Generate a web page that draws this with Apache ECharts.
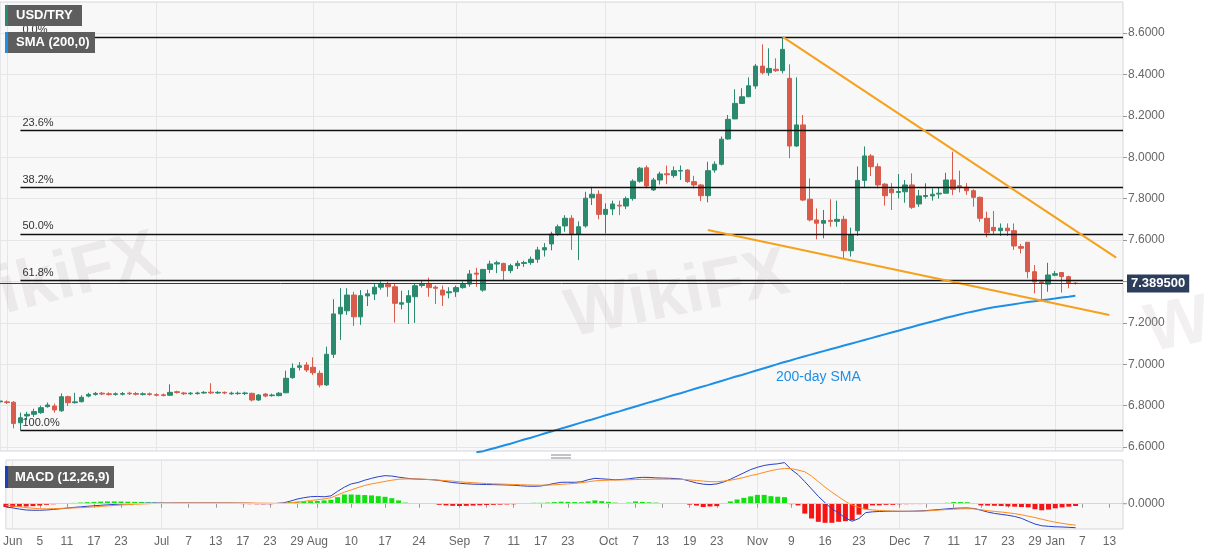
<!DOCTYPE html>
<html><head><meta charset="utf-8">
<script src="https://cdn.jsdelivr.net/npm/echarts@6/dist/echarts.min.js"></script>
<style>html,body{margin:0;padding:0;background:#fff}#c{width:1207px;height:555px}</style>
</head><body><div id="c"></div>
<script>
const dates = ['2020-05-29',
'2020-06-01','2020-06-02','2020-06-03','2020-06-04','2020-06-05','2020-06-08','2020-06-09','2020-06-10','2020-06-11','2020-06-12','2020-06-15','2020-06-16','2020-06-17','2020-06-18','2020-06-19','2020-06-22','2020-06-23','2020-06-24','2020-06-25','2020-06-26','2020-06-29','2020-06-30',
'2020-07-01','2020-07-02','2020-07-03','2020-07-06','2020-07-07','2020-07-08','2020-07-09','2020-07-10','2020-07-13','2020-07-14','2020-07-15','2020-07-16','2020-07-17','2020-07-20','2020-07-21','2020-07-22','2020-07-23','2020-07-24','2020-07-27','2020-07-28','2020-07-29','2020-07-30','2020-07-31',
'2020-08-03','2020-08-04','2020-08-05','2020-08-06','2020-08-07','2020-08-10','2020-08-11','2020-08-12','2020-08-13','2020-08-14','2020-08-17','2020-08-18','2020-08-19','2020-08-20','2020-08-21','2020-08-24','2020-08-25','2020-08-26','2020-08-27','2020-08-28','2020-08-31',
'2020-09-01','2020-09-02','2020-09-03','2020-09-04','2020-09-07','2020-09-08','2020-09-09','2020-09-10','2020-09-11','2020-09-14','2020-09-15','2020-09-16','2020-09-17','2020-09-18','2020-09-21','2020-09-22','2020-09-23','2020-09-24','2020-09-25','2020-09-28','2020-09-29','2020-09-30',
'2020-10-01','2020-10-02','2020-10-05','2020-10-06','2020-10-07','2020-10-08','2020-10-09','2020-10-12','2020-10-13','2020-10-14','2020-10-15','2020-10-16','2020-10-19','2020-10-20','2020-10-21','2020-10-22','2020-10-23','2020-10-26','2020-10-27','2020-10-28','2020-10-29','2020-10-30',
'2020-11-02','2020-11-03','2020-11-04','2020-11-05','2020-11-06','2020-11-09','2020-11-10','2020-11-11','2020-11-12','2020-11-13','2020-11-16','2020-11-17','2020-11-18','2020-11-19','2020-11-20','2020-11-23','2020-11-24','2020-11-25','2020-11-26','2020-11-27','2020-11-30',
'2020-12-01','2020-12-02','2020-12-03','2020-12-04','2020-12-07','2020-12-08','2020-12-09','2020-12-10','2020-12-11','2020-12-14','2020-12-15','2020-12-16','2020-12-17','2020-12-18','2020-12-21','2020-12-22','2020-12-23','2020-12-24','2020-12-25','2020-12-28','2020-12-29','2020-12-30','2020-12-31',
'2021-01-01','2021-01-04','2021-01-05','2021-01-06','2021-01-07','2021-01-08','2021-01-11','2021-01-12','2021-01-13','2021-01-14','2021-01-15'];

// [open, close, low, high]
const ohlc = [
[6.818,6.822,6.812,6.828],[6.818,6.815,6.808,6.825],[6.816,6.714,6.690,6.822],[6.717,6.741,6.682,6.766],[6.750,6.758,6.730,6.770],
[6.758,6.771,6.745,6.785],[6.766,6.790,6.760,6.800],[6.795,6.803,6.790,6.815],[6.798,6.779,6.766,6.810],[6.775,6.843,6.770,6.859],
[6.843,6.814,6.798,6.848],[6.814,6.818,6.810,6.862],[6.819,6.840,6.815,6.850],[6.846,6.854,6.840,6.862],[6.854,6.859,6.848,6.866],
[6.860,6.856,6.850,6.866],[6.857,6.854,6.848,6.864],[6.854,6.857,6.848,6.864],[6.855,6.858,6.849,6.866],[6.860,6.857,6.851,6.867],
[6.858,6.855,6.849,6.866],[6.854,6.857,6.849,6.864],[6.857,6.854,6.848,6.863],[6.853,6.850,6.845,6.860],[6.852,6.849,6.844,6.858],
[6.850,6.864,6.846,6.903],[6.867,6.863,6.858,6.872],[6.861,6.857,6.851,6.866],[6.857,6.860,6.852,6.866],[6.858,6.861,6.853,6.867],
[6.861,6.864,6.857,6.870],[6.865,6.861,6.856,6.908],[6.861,6.864,6.856,6.870],[6.864,6.861,6.855,6.868],[6.857,6.860,6.852,6.867],
[6.858,6.860,6.852,6.868],[6.858,6.861,6.851,6.867],[6.859,6.827,6.820,6.863],[6.827,6.851,6.822,6.856],[6.856,6.846,6.840,6.860],
[6.848,6.851,6.843,6.858],[6.848,6.860,6.845,6.865],[6.862,6.932,6.860,6.969],[6.935,6.980,6.930,7.004],[6.985,6.992,6.970,7.010],
[6.996,6.972,6.962,7.010],[6.985,6.959,6.948,7.033],[6.956,6.900,6.888,6.970],[6.900,7.048,6.895,7.085],[7.048,7.243,7.030,7.314],
[7.243,7.275,7.117,7.367],[7.258,7.334,7.238,7.367],[7.334,7.229,7.185,7.350],[7.229,7.331,7.190,7.358],[7.330,7.340,7.281,7.360],
[7.339,7.372,7.310,7.391],[7.372,7.387,7.360,7.400],[7.386,7.374,7.326,7.399],[7.374,7.294,7.201,7.388],[7.290,7.297,7.265,7.355],
[7.299,7.331,7.194,7.358],[7.326,7.379,7.200,7.391],[7.380,7.387,7.370,7.407],[7.387,7.370,7.326,7.418],[7.372,7.367,7.291,7.380],
[7.358,7.334,7.281,7.380],[7.345,7.350,7.318,7.372],[7.350,7.370,7.325,7.380],[7.370,7.386,7.365,7.400],[7.387,7.436,7.374,7.455],
[7.440,7.435,7.374,7.466],[7.358,7.458,7.350,7.460],[7.458,7.484,7.440,7.500],[7.484,7.490,7.440,7.500],[7.487,7.452,7.407,7.490],
[7.452,7.476,7.440,7.485],[7.476,7.487,7.460,7.500],[7.487,7.491,7.470,7.500],[7.491,7.507,7.480,7.520],[7.507,7.552,7.490,7.567],
[7.552,7.563,7.520,7.585],[7.581,7.629,7.550,7.640],[7.632,7.664,7.620,7.675],[7.668,7.705,7.640,7.720],[7.705,7.629,7.552,7.720],
[7.629,7.664,7.503,7.690],[7.668,7.802,7.660,7.833],[7.804,7.821,7.769,7.857],[7.821,7.724,7.700,7.840],[7.724,7.748,7.632,7.777],
[7.750,7.774,7.720,7.790],[7.768,7.764,7.720,7.790],[7.764,7.800,7.750,7.810],[7.800,7.884,7.790,7.893],[7.884,7.947,7.877,7.953],
[7.949,7.861,7.850,7.960],[7.842,7.890,7.837,7.900],[7.890,7.919,7.868,7.930],[7.920,7.915,7.870,7.959],[7.911,7.935,7.900,7.955],
[7.933,7.936,7.890,7.960],[7.938,7.882,7.876,7.942],[7.882,7.866,7.850,7.910],[7.866,7.814,7.788,7.870],[7.814,7.935,7.782,7.978],
[7.938,7.966,7.925,7.980],[7.966,8.087,7.960,8.100],[8.088,8.183,8.085,8.204],[8.185,8.260,8.184,8.328],[8.260,8.292,8.258,8.333],
[8.292,8.345,8.290,8.386],[8.344,8.440,8.330,8.450],[8.440,8.408,8.400,8.545],[8.408,8.429,8.393,8.526],[8.425,8.418,8.412,8.478],
[8.418,8.521,8.405,8.578],[8.381,8.054,7.995,8.449],[8.054,8.156,8.050,8.386],[8.156,7.793,7.788,8.204],[7.797,7.697,7.690,7.898],
[7.697,7.681,7.603,7.753],[7.681,7.694,7.608,7.745],[7.695,7.690,7.664,7.797],[7.690,7.700,7.664,7.790],[7.700,7.548,7.512,7.717],
[7.548,7.624,7.520,7.660],[7.645,7.888,7.620,7.955],[7.888,8.006,7.855,8.052],[8.006,7.954,7.909,8.015],[7.954,7.866,7.850,7.970],
[7.870,7.814,7.766,7.875],[7.846,7.828,7.745,7.875],[7.830,7.834,7.801,7.919],[7.833,7.866,7.780,7.890],[7.866,7.758,7.750,7.922],
[7.774,7.813,7.760,7.842],[7.810,7.815,7.800,7.874],[7.813,7.821,7.790,7.850],[7.822,7.826,7.800,7.855],[7.826,7.890,7.825,7.925],
[7.890,7.845,7.817,8.027],[7.862,7.857,7.830,7.935],[7.855,7.838,7.818,7.875],[7.838,7.806,7.761,7.845],[7.806,7.705,7.688,7.810],
[7.705,7.635,7.613,7.737],[7.661,7.645,7.629,7.740],[7.645,7.657,7.620,7.680],[7.657,7.645,7.620,7.680],[7.645,7.571,7.552,7.680],
[7.568,7.560,7.535,7.580],[7.589,7.447,7.415,7.590],[7.447,7.398,7.342,7.479],[7.398,7.394,7.310,7.400],[7.387,7.431,7.350,7.490],
[7.430,7.437,7.425,7.450],[7.443,7.423,7.346,7.445],[7.423,7.394,7.367,7.428],[7.392,7.3895,7.385,7.395]
];

const smaStartDate = '2020-09-04';
const sma200 = [6.575,6.580,6.589,6.598,6.607,6.616,6.626,6.636,6.645,6.655,6.665,6.675,6.685,6.694,6.704,6.714,6.724,6.733,6.743,6.753,
6.763,6.772,6.782,6.792,6.802,6.812,6.821,6.831,6.841,6.851,6.860,6.870,6.880,6.890,6.899,6.909,6.919,6.929,6.939,6.948,
6.958,6.968,6.978,6.988,6.998,7.008,7.017,7.027,7.036,7.045,7.054,7.063,7.072,7.081,7.090,7.099,7.108,7.117,7.126,7.135,
7.144,7.153,7.162,7.171,7.180,7.189,7.198,7.206,7.215,7.224,7.232,7.240,7.248,7.255,7.262,7.269,7.275,7.280,7.285,7.290,
7.295,7.300,7.304,7.309,7.313,7.317,7.322,7.326,7.331];

const macdLine = [-0.018,-0.0225,-0.029,-0.034,-0.0355,-0.0355,-0.034,-0.031,-0.0275,-0.024,
-0.020,-0.017,-0.014,-0.011,-0.0085,-0.006,-0.004,-0.002,-0.0005,0.001,
0.002,0.003,0.0035,0.0035,0.0035,0.004,0.004,0.004,0.004,0.004,
0.004,0.004,0.004,0.004,0.0035,0.003,0.0025,0.001,0.0005,0.0005,
0.0015,0.005,0.014,0.025,0.0325,0.038,0.0395,0.0375,0.0425,0.0675,
0.090,0.1075,0.115,0.1275,0.1375,0.1465,0.152,0.150,0.144,0.139,
0.135,0.133,0.1315,0.130,0.1265,0.120,0.115,0.111,0.108,0.106,
0.105,0.104,0.1035,0.1025,0.1015,0.100,0.0975,0.095,0.0945,0.096,
0.1025,0.110,0.116,0.1165,0.116,0.119,0.130,0.1375,0.135,0.1325,
0.130,0.1315,0.135,0.140,0.143,0.1425,0.140,0.139,0.138,0.136,
0.1325,0.1225,0.1125,0.106,0.1035,0.1075,0.1175,0.1325,0.150,0.1675,
0.185,0.1975,0.2075,0.213,0.2165,0.223,0.185,0.158,0.120,0.080,
0.040,0.005,-0.0275,-0.050,-0.0775,-0.095,-0.080,-0.048,-0.044,-0.042,
-0.041,-0.041,-0.0415,-0.041,-0.0405,-0.039,-0.037,-0.034,-0.031,-0.028,
-0.025,-0.0235,-0.023,-0.026,-0.035,-0.045,-0.0525,-0.0575,-0.0625,-0.069,
-0.079,-0.095,-0.110,-0.1195,-0.1225,-0.125,-0.126,-0.128,-0.130];

const signalLine = [-0.009,-0.0125,-0.0165,-0.021,-0.0245,-0.027,-0.0275,-0.027,-0.0255,-0.024,
-0.023,-0.0215,-0.0195,-0.017,-0.0145,-0.012,-0.0095,-0.007,-0.005,-0.003,
-0.0015,0,0.0015,0.0025,0.003,0.0035,0.0037,0.0037,0.0037,0.0037,
0.0037,0.0037,0.0037,0.0037,0.0037,0.0037,0.0037,0.0035,0.003,0.0025,
0.002,0.0025,0.0045,0.008,0.0125,0.0175,0.0215,0.026,0.0325,0.0475,
0.0625,0.075,0.0875,0.099,0.1075,0.114,0.121,0.1275,0.1325,0.134,
0.1345,0.134,0.1325,0.130,0.1275,0.125,0.1225,0.119,0.116,0.114,
0.1115,0.1095,0.108,0.107,0.1055,0.104,0.103,0.102,0.101,0.1005,
0.101,0.1025,0.105,0.1075,0.110,0.114,0.119,0.124,0.126,0.1275,
0.1285,0.129,0.130,0.131,0.132,0.1325,0.133,0.133,0.133,0.1325,
0.1315,0.129,0.126,0.1225,0.1195,0.1195,0.1225,0.1275,0.134,0.1425,
0.1525,0.160,0.170,0.179,0.1865,0.191,0.190,0.1825,0.173,0.150,
0.120,0.0895,0.0625,0.0375,0.0125,-0.0075,-0.020,-0.030,-0.034,-0.0365,
-0.0385,-0.040,-0.0405,-0.041,-0.041,-0.0405,-0.039,-0.0365,-0.034,-0.0315,
-0.0295,-0.028,-0.027,-0.028,-0.0325,-0.0375,-0.0415,-0.045,-0.049,-0.054,
-0.060,-0.0675,-0.075,-0.084,-0.0925,-0.100,-0.1065,-0.112,-0.116];

const macdHist = [-0.018,-0.017,-0.016,-0.015,-0.013,-0.010,-0.006,-0.003,0.0015,0.003,
0.0045,0.0065,0.0085,0.010,0.0115,0.0125,0.0125,0.012,0.011,0.010,
0.009,0.0075,0.0065,0.0055,0.0045,0.0035,0.0025,0.002,0.0015,0.0015,
0.0015,0.0015,0.0015,0.001,-0.0015,-0.002,-0.0025,-0.003,-0.003,-0.0025,
-0.0015,0.0025,0.008,0.011,0.0125,0.0135,0.015,0.018,0.0215,0.0355,
0.050,0.050,0.0485,0.047,0.045,0.041,0.0375,0.030,0.018,0.006,
0.0025,0.002,0.0015,0.001,-0.006,-0.009,-0.0115,-0.0125,-0.0115,-0.010,
-0.0085,-0.007,-0.006,-0.005,-0.004,-0.003,0.0025,0.0035,0.005,0.005,
0.0065,0.009,0.011,0.010,0.009,0.008,0.0125,0.018,0.014,0.010,
0.006,0.004,0.006,0.0125,0.010,0.0075,0.006,0.004,0.003,0.002,
0.0015,-0.005,-0.010,-0.018,-0.015,-0.013,0.002,0.0125,0.023,0.032,
0.040,0.048,0.048,0.041,0.038,0.0355,-0.0025,-0.009,-0.0535,-0.080,
-0.098,-0.1035,-0.1035,-0.098,-0.0945,-0.0895,-0.059,-0.030,-0.009,-0.009,
-0.006,-0.006,-0.003,-0.0025,-0.002,-0.002,-0.0015,0.0015,0.002,0.005,
0.009,0.009,0.008,0.003,-0.009,-0.010,-0.011,-0.0125,-0.0145,-0.016,
-0.018,-0.0195,-0.030,-0.0355,-0.0315,-0.025,-0.020,-0.016,-0.0125];

const fibLabels = ['0.0%','23.6%','38.2%','50.0%','61.8%','100.0%'];
const fibPrices = [8.578,8.131,7.854,7.630,7.406,6.682];
const fibStartDate = '2020-06-03';
const lastPrice = 7.3895;
const lastPriceText = '7.389500';
const upperTrend = [['2020-11-06',8.581],['2021-01-14',7.515]];
const lowerTrend = [['2020-10-22',7.648],['2021-01-13',7.238]];

const tickDates = ['2020-06-01','2020-06-05','2020-06-11','2020-06-17','2020-06-23','2020-07-01','2020-07-07','2020-07-13','2020-07-17','2020-07-23','2020-07-29',
'2020-08-03','2020-08-10','2020-08-17','2020-08-24','2020-09-01','2020-09-07','2020-09-11','2020-09-17','2020-09-23',
'2020-10-01','2020-10-07','2020-10-13','2020-10-19','2020-10-23','2020-11-02','2020-11-09','2020-11-16','2020-11-23',
'2020-12-01','2020-12-07','2020-12-11','2020-12-17','2020-12-23','2020-12-29','2021-01-01','2021-01-07','2021-01-13'];
const tickTexts = ['Jun','5','11','17','23','Jul','7','13','17','23','29',
'Aug','10','17','24','Sep','7','11','17','23',
'Oct','7','13','19','23','Nov','9','16','23',
'Dec','7','11','17','23','29','Jan','7','13'];
const monthStarts = ['2020-06-01','2020-07-01','2020-08-03','2020-09-01','2020-10-01','2020-11-02','2020-12-01','2021-01-01'];

const priceMin = 6.6, priceMax = 8.6, priceStep = 0.2;
const macdMin = -0.137, macdMax = 0.237;

// ---- build ----
const FONT = 'Liberation Sans, Arial, sans-serif';
const UP = '#2b8a6e', DOWN = '#d85b4b';
const tickMap = {}; tickDates.forEach((d,i)=>{tickMap[d]=tickTexts[i];});
const tickSet = new Set(tickDates.map(d=>dates.indexOf(d)));
const monthSet = new Set(monthStarts.map(d=>dates.indexOf(d)));
const smaStart = dates.indexOf(smaStartDate);
const smaData = dates.map((d,i)=> (i>=smaStart && i-smaStart<sma200.length) ? sma200[i-smaStart] : null);
const lastDate = dates[dates.length-1];

const gridLine = '#e6e6e6';
const L = 0, W = 1123;
const MT = 460, MH = 69;
const zeroY = MT + MH * macdMax / (macdMax - macdMin);

const fibLines = fibPrices.map((v,i)=>{
  const lab = {show:true, position:'insideStartTop', formatter: fibLabels[i], color:'#333', fontSize:11, fontFamily:FONT, distance:2};
  return [{coord:[fibStartDate, v], label:lab, lineStyle:{color:'#111', width:1.3, type:'solid'}},
          {coord:[lastDate, v], label:lab}];
});
const trendStyle = {color:'#f5a11c', width:2, type:'solid'};
const trendLines = [upperTrend, lowerTrend].map(t=>[
  {coord:t[0], lineStyle:trendStyle, label:{show:false}},
  {coord:t[1], label:{show:false}}
]);

const option = {
  animation:false,
  textStyle:{fontFamily:FONT},
  grid:[
    {left:L, width:W, top:2, height:449, show:true, backgroundColor:'#f8f8f8', borderColor:'#d6d6de', borderWidth:1},
    {left:L, width:W, top:33, height:414, show:false},
    {left:L, width:W, top:MT, height:MH, show:true, backgroundColor:'#f8f8f8', borderColor:'#d6d6de', borderWidth:1}
  ],
  xAxis:[
    {type:'category', gridIndex:0, data:dates, boundaryGap:false, axisLine:{show:false}, axisTick:{show:false}, axisLabel:{show:false},
     splitLine:{show:true, interval:(i)=>monthSet.has(i), lineStyle:{color:gridLine}}},
    {type:'category', gridIndex:1, data:dates, boundaryGap:false, axisLine:{show:false}, axisTick:{show:false}, axisLabel:{show:false}, splitLine:{show:false}},
    {type:'category', gridIndex:2, data:dates, boundaryGap:false, axisLine:{show:false},
     axisTick:{show:true, interval:(i)=>tickSet.has(i), length:4, lineStyle:{color:'#999'}},
     axisLabel:{show:true, interval:(i)=>tickSet.has(i), formatter:(v)=>tickMap[v]||'', color:'#666', fontSize:12, margin:7, fontFamily:FONT},
     splitLine:{show:true, interval:(i)=>monthSet.has(i), lineStyle:{color:gridLine}}}
  ],
  yAxis:[
    {type:'value', gridIndex:0, min:0, max:1, show:false, splitLine:{show:false}},
    {type:'value', gridIndex:1, position:'right', min:priceMin, max:priceMax, interval:priceStep,
     axisLine:{show:false}, axisTick:{show:true, length:4, lineStyle:{color:'#999'}},
     axisLabel:{color:'#666', fontSize:12, margin:5, fontFamily:FONT, formatter:(v)=> Math.abs(v-7.4)<1e-6 ? '' : v.toFixed(4)},
     splitLine:{show:true, lineStyle:{color:gridLine}}},
    {type:'value', gridIndex:2, min:macdMin, max:macdMax, show:true, axisLine:{show:false}, axisTick:{show:false}, axisLabel:{show:false}, splitLine:{show:false}}
  ],
  series:[
    {type:'candlestick', xAxisIndex:1, yAxisIndex:1, data:ohlc, barWidth:5,
     itemStyle:{color:UP, color0:DOWN, borderColor:UP, borderColor0:DOWN, borderWidth:1},
     markLine:{silent:true, symbol:['none','none'], animation:false,
       data:[...fibLines, ...trendLines,
         {yAxis:lastPrice, lineStyle:{color:'#2c3e5c', width:1, type:'solid'},
          label:{show:true, position:'end', formatter:lastPriceText, color:'#fff', backgroundColor:'#2c3e5c', fontWeight:'bold', fontSize:13, padding:[3,4,2,4], distance:4, fontFamily:FONT}}
       ]}
    },
    {type:'line', xAxisIndex:1, yAxisIndex:1, data:smaData, symbol:'none', clip:false, lineStyle:{color:'#1e8fe6', width:2}, z:3},
    {type:'bar', xAxisIndex:2, yAxisIndex:2, data:macdHist, barWidth:5,
     itemStyle:{color:(p)=> p.value>=0 ? '#11e011' : '#f51515'},
     markLine:{silent:true, symbol:['none','none'], animation:false, data:[{yAxis:0}],
       lineStyle:{color:'#d4d4d4', width:1, type:'solid'},
       label:{show:true, position:'end', formatter:'0.0000', color:'#666', fontSize:12, distance:5, fontFamily:FONT}}},
    {type:'line', xAxisIndex:2, yAxisIndex:2, data:macdLine, symbol:'none', lineStyle:{color:'#2940c8', width:1}, z:4},
    {type:'line', xAxisIndex:2, yAxisIndex:2, data:signalLine, symbol:'none', lineStyle:{color:'#ff8a1c', width:1}, z:4}
  ],
  graphic:[
    {type:'text', x:-70, y:278, rotation:0.25, z:1, silent:true, style:{text:'WikiFX', font:'bold 68px '+FONT, fill:'rgba(150,135,135,0.12)'}},
    {type:'text', x:560, y:285, rotation:0.2, z:1, silent:true, style:{text:'WikiFX', font:'bold 68px '+FONT, fill:'rgba(150,135,135,0.12)'}},
    {type:'text', x:1140, y:300, rotation:0.2, z:1, silent:true, style:{text:'WikiFX', font:'bold 68px '+FONT, fill:'rgba(150,135,135,0.12)'}},
    {type:'rect', z:100, shape:{x:5,y:5,width:77,height:21}, style:{fill:'#5e5e5e'}},
    {type:'rect', z:101, shape:{x:5,y:5,width:3,height:21}, style:{fill:UP}},
    {type:'text', z:102, x:16, y:15.5, style:{text:'USD/TRY', font:'bold 13px '+FONT, fill:'#fff', verticalAlign:'middle'}},
    {type:'rect', z:100, shape:{x:5,y:32,width:90,height:21}, style:{fill:'#5e5e5e'}},
    {type:'rect', z:101, shape:{x:5,y:32,width:3,height:21}, style:{fill:'#1e8fe6'}},
    {type:'text', z:102, x:16, y:42.5, style:{text:'SMA (200,0)', font:'bold 13px '+FONT, fill:'#fff', verticalAlign:'middle'}},
    {type:'rect', z:100, shape:{x:5,y:466,width:109,height:22}, style:{fill:'#5e5e5e'}},
    {type:'rect', z:101, shape:{x:5,y:466,width:3,height:22}, style:{fill:'#1a3fbf'}},
    {type:'text', z:102, x:15, y:477, style:{text:'MACD (12,26,9)', font:'bold 13px '+FONT, fill:'#fff', verticalAlign:'middle'}},
    {type:'text', z:60, x:776, y:370, style:{text:'200-day SMA', font:'14px '+FONT, fill:'#1e8fe6'}},
    {type:'line', z:50, shape:{x1:1123,y1:zeroY,x2:1127,y2:zeroY}, style:{stroke:'#999', lineWidth:1}},
    {type:'line', z:50, shape:{x1:551,y1:455,x2:571,y2:455}, style:{stroke:'#888', lineWidth:1}},
    {type:'line', z:50, shape:{x1:551,y1:458,x2:571,y2:458}, style:{stroke:'#888', lineWidth:1}}
  ]
};
const chart = echarts.init(document.getElementById('c'), null, {renderer:'canvas'});
chart.setOption(option);
</script></body></html>
